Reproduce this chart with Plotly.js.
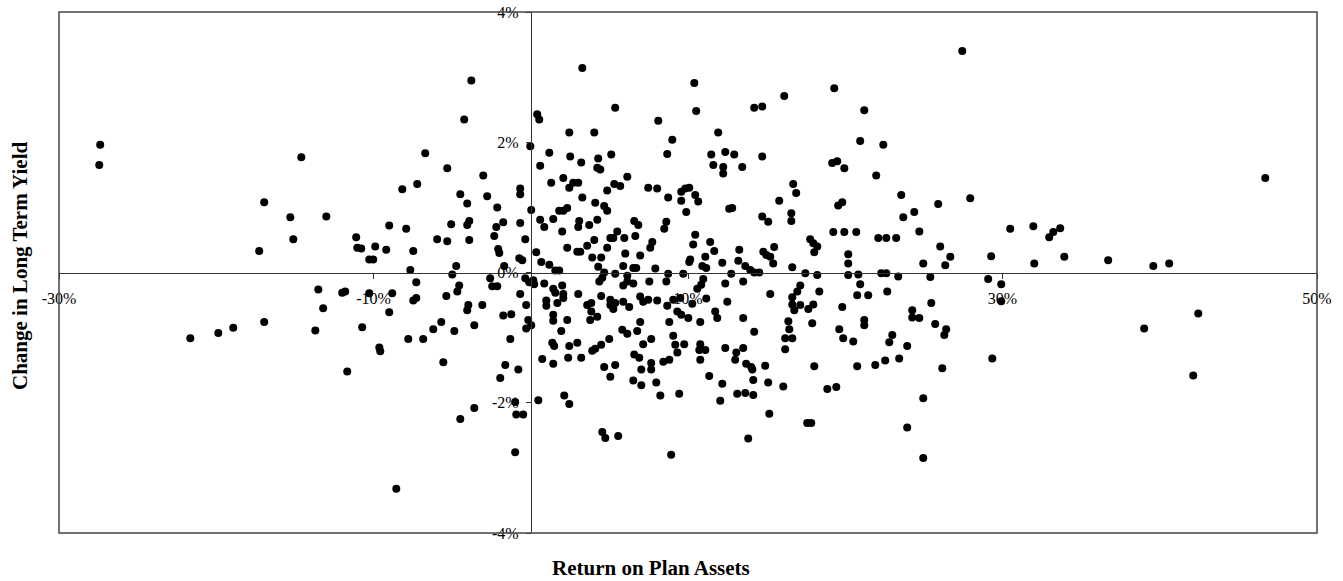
<!DOCTYPE html>
<html>
<head>
<meta charset="utf-8">
<script src="https://cdn.plot.ly/plotly-3.0.1.min.js"></script>
<style>html,body{margin:0;padding:0;background:#fff;}#chart{width:1343px;height:581px;}</style>
</head>
<body>
<div id="chart"></div>
<script>
// Return on plan assets (%) and change in long-term yield (%), grouped by region
const retFarLeftTop = [-27.38,-27.44,-14.59,-16.95,-15.29,-13.00,-15.10,-17.27,-11.10,-11.03,-10.78,-9.89,-9.19,-9.00,-10.27,-10.02,-13.51];
const yldFarLeftTop = [1.96,1.65,1.77,1.08,0.85,0.86,0.51,0.33,0.54,0.38,0.37,0.40,0.35,0.72,0.20,0.20,-0.26];

const retFarLeftBottom = [-11.99,-11.80,-10.27,-8.81,-13.20,-9.00,-16.95,-18.92,-19.87,-21.65,-13.70,-10.72,-9.63,-9.57,-11.67,-8.55];
const yldFarLeftBottom = [-0.31,-0.29,-0.32,-0.32,-0.55,-0.61,-0.76,-0.85,-0.93,-1.01,-0.89,-0.84,-1.15,-1.21,-1.52,-3.32];

const retMidTop = [
 3.28,-3.78,10.40,19.30,16.12,14.21,14.72,5.37,10.52,-4.23,
 0.41,0.54,8.11,2.45,4.04,11.92,9.00,-0.03,-6.71,1.18,
 5.12,8.68,11.48,12.37,12.94,14.72,2.51,4.29,3.21,19.17,
 19.49,19.94,11.61,12.24,12.24,13.45,-5.31,0.60,4.23,4.42,
 -3.02,6.14,2.07,1.30,2.45,2.70,3.02,5.31,5.69,16.69,
 16.88,-7.22,-8.17,-0.67,-0.67,7.47,8.04,9.57,9.83,10.08,
 10.46,10.65,-4.48,-4.04,-2.77,3.28,4.86,8.74,9.57,9.89,
 15.80,16.57,16.57,19.55,19.81,12.62,12.81,4.10,4.67,4.86,
 -2.13,0.03,6.58,6.84,8.62,8.49,14.72,15.10,0.60,0.86,
 1.43,1.81,2.07,2.32,3.08,3.02,3.72,4.23,2.00,-5.06,
 -4.04,-3.91,-1.75,-2.19,-0.67,-7.92,-5.95,-5.31,-3.91,-2.32,
 -0.35,19.24,19.94,5.50,5.25,5.06,5.95,6.65,4.04,3.59,
 4.86,2.32,2.96,3.15,7.73,7.60,6.01,6.96,10.46,10.33,
 11.41,11.67,11.10,10.14,10.08,12.18,13.26,13.20,13.64,15.48,
 14.79,14.98,15.23,15.42,16.63,17.77,17.97,18.22,18.03,20.19,
 20.19,17.46,18.22,20.19,-7.47,-2.07,-2.00,-0.73,-0.54,0.35,
 -4.74,-4.99,-7.66,-1.69,0.67,1.18,1.56,1.81,3.91,4.48,
 4.29,4.67,4.55,4.36,5.37,5.88,6.14,6.52,6.71,7.92,
 8.74,9.70,10.91,11.16,12.75,13.96,14.21,14.53,-7.28,-4.55,
 -2.58,-2.45,-2.13,-0.35,-0.10,0.22,0.16,0.86,2.00,5.88,
 6.14,6.52,7.54,8.62,12.37,13.51,10.97,10.84,17.14
];
const yldMidTop = [
 3.14,2.95,2.91,2.83,2.71,2.53,2.55,2.53,2.48,2.35,
 2.43,2.35,2.33,2.15,2.15,2.15,2.04,1.94,1.83,1.84,
 1.81,1.82,1.81,1.85,1.81,1.78,1.78,1.75,1.69,1.68,
 1.71,1.60,1.65,1.62,1.52,1.62,1.60,1.64,1.61,1.58,
 1.49,1.47,1.45,1.38,1.30,1.38,1.38,1.36,1.33,1.36,
 1.22,1.36,1.28,1.29,1.20,1.30,1.29,1.24,1.29,1.30,
 1.19,1.09,1.20,1.06,1.17,1.15,1.26,1.15,1.10,0.93,
 1.10,0.91,0.79,1.03,1.08,0.98,0.99,1.07,1.02,0.95,
 1.00,0.96,0.79,0.73,0.78,0.67,0.86,0.78,0.81,0.70,
 0.82,0.95,0.95,0.99,0.79,0.70,0.73,0.81,0.63,0.74,
 0.73,0.79,0.77,0.70,0.76,0.67,0.51,0.48,0.50,0.56,
 0.51,0.62,0.62,0.63,0.53,0.53,0.53,0.56,0.50,0.41,
 0.38,0.38,0.32,0.32,0.47,0.38,0.29,0.26,0.58,0.43,
 0.47,0.33,0.24,0.20,0.16,0.15,0.35,0.18,0.10,0.39,
 0.32,0.27,0.24,0.14,0.08,0.51,0.45,0.40,0.31,0.28,
 0.14,-0.01,-0.04,-0.04,0.33,0.36,0.30,0.22,0.19,0.31,
 0.10,-0.03,0.04,0.10,0.16,0.12,0.03,0.03,0.23,0.23,
 0.09,0.00,-0.08,-0.14,-0.02,0.10,-0.05,0.07,0.07,0.06,
 -0.02,-0.02,0.10,0.07,-0.02,0.04,0.00,0.00,-0.15,-0.20,
 -0.09,-0.21,-0.21,-0.09,-0.15,-0.18,-0.12,-0.17,-0.20,-0.20,
 -0.14,-0.17,-0.14,-0.14,-0.17,-0.14,-0.10,-0.19,-0.20
];

const retRightTop = [27.44,21.21,20.95,22.42,21.97,23.56,25.91,27.95,24.39,23.69,46.71,20.70,22.10,22.61,23.24,24.71,26.04,26.68,26.36,24.96,30.49,31.96,32.97,33.23,33.67,29.28,32.02,33.93,36.72,39.59,40.60,20.83,20.95,22.29,22.61,23.37,25.41,29.09,29.92];
const yldRightTop = [3.40,2.49,2.02,1.96,1.49,1.19,1.05,1.14,0.93,0.85,1.45,0.62,0.53,0.53,0.53,0.63,0.40,0.24,0.11,0.14,0.67,0.71,0.54,0.62,0.68,0.25,0.14,0.24,0.19,0.10,0.14,-0.03,-0.18,-0.01,-0.01,-0.06,-0.07,-0.10,-0.18];

const retNearLeftBottom = [-5.37,-4.67,-3.97,-4.04,-3.08,-3.59,-4.86,-5.69,-6.20,-6.84,-7.79,-7.47,-7.28,-5.56,-0.67,-0.29,-1.75,-1.24,-0.16,-0.29,0.03,-1.30,-1.62,-1.94,-0.79,-0.99,-0.92,-0.48,-3.59,-4.48,-0.99];
const yldNearLeftBottom = [-0.36,-0.29,-0.50,-0.58,-0.50,-0.81,-0.90,-0.76,-0.87,-1.02,-1.02,-0.43,-0.39,-1.38,-0.33,-0.50,-0.66,-0.64,-0.73,-0.86,-0.81,-1.02,-1.42,-1.62,-1.49,-1.99,-2.18,-2.18,-2.08,-2.25,-2.76];

const retMidBottom = [
 1.43,1.56,0.99,0.99,2.07,2.07,1.69,3.02,1.43,1.43,
 2.32,1.94,4.48,3.59,3.85,3.85,3.78,4.23,5.06,5.06,
 5.25,5.37,5.88,6.26,6.96,7.15,7.47,8.04,8.68,9.06,
 9.51,10.27,10.59,11.16,12.50,9.32,9.57,10.02,10.78,8.81,
 11.73,11.86,13.51,14.21,6.96,6.77,5.82,6.14,4.99,4.48,
 4.10,3.91,2.96,2.45,1.37,1.49,0.73,1.43,2.38,3.21,
 4.67,5.37,5.06,7.15,7.66,6.58,6.90,7.66,7.66,7.03,
 6.52,7.03,7.98,8.43,8.81,9.06,9.19,9.32,9.76,10.78,
 10.72,11.10,10.78,11.35,12.37,13.07,13.51,13.00,13.70,14.02,
 14.09,14.91,14.15,15.10,12.18,13.13,13.64,14.15,12.05,8.24,
 9.44,2.13,2.45,0.48,4.55,4.74,5.56,13.83,8.93,15.17
];
const yldMidBottom = [
 -0.25,-0.31,-0.43,-0.51,-0.33,-0.39,-0.47,-0.33,-0.65,-0.74,
 -0.73,-0.90,-0.36,-0.50,-0.47,-0.60,-0.73,-0.68,-0.42,-0.50,
 -0.56,-0.47,-0.45,-0.53,-0.37,-0.45,-0.42,-0.43,-0.51,-0.42,
 -0.39,-0.48,-0.25,-0.40,-0.45,-0.60,-0.65,-0.70,-0.76,-0.76,
 -0.60,-0.70,-0.70,-0.91,-0.76,-0.90,-0.88,-0.94,-1.02,-1.11,
 -1.17,-1.20,-1.08,-1.13,-1.08,-1.13,-1.33,-1.40,-1.31,-1.31,
 -1.45,-1.42,-1.60,-1.10,-1.02,-1.26,-1.31,-1.39,-1.49,-1.49,
 -1.66,-1.73,-1.69,-1.37,-1.34,-0.97,-1.11,-1.23,-1.10,-1.10,
 -1.19,-1.19,-1.34,-1.59,-1.16,-1.23,-1.16,-1.34,-1.40,-1.45,
 -1.49,-1.43,-1.65,-1.69,-1.71,-1.86,-1.85,-1.88,-1.97,-1.89,
 -1.86,-1.89,-2.02,-1.96,-2.45,-2.54,-2.51,-2.55,-2.80,-2.17
];

const retMidRightBottom = [15.23,16.63,16.95,18.35,16.63,16.76,17.14,17.65,17.97,19.81,16.38,16.44,17.90,19.62,19.87,16.18,16.63,16.18,18.03,16.06,18.86,19.43,17.58,17.84];
const yldMidRightBottom = [-0.33,-0.38,-0.29,-0.29,-0.49,-0.58,-0.50,-0.56,-0.49,-0.53,-0.75,-0.87,-0.78,-0.87,-1.01,-1.01,-1.01,-1.18,-1.44,-1.75,-1.79,-1.76,-2.31,-2.31];

const retRightBottom = [20.76,21.46,22.67,24.26,24.26,24.71,25.47,25.72,26.42,26.30,21.21,21.21,20.51,22.99,22.80,23.94,22.54,23.43,20.76,21.91,26.17,24.96,23.94,24.96,29.92,29.35,39.01,42.45,42.13];
const yldRightBottom = [-0.35,-0.35,-0.29,-0.58,-0.69,-0.70,-0.47,-0.79,-0.87,-0.96,-0.73,-0.81,-1.06,-0.96,-1.07,-1.13,-1.35,-1.32,-1.44,-1.42,-1.47,-1.93,-2.38,-2.85,-0.44,-1.32,-0.86,-0.63,-1.58];

const xTickVals = [-30, -10, 10, 30, 50];
const xTickLabels = ['-30%', '-10%', '10%', '30%', '50%'];
const yTickVals = [-4, -2, 0, 2, 4];
const yTickLabels = ['-4%', '-2%', '0%', '2%', '4%'];
const xTitle = 'Return on Plan Assets';
const yTitle = 'Change in Long Term Yield';

const groups = [
  [retFarLeftTop, yldFarLeftTop], [retFarLeftBottom, yldFarLeftBottom],
  [retMidTop, yldMidTop], [retRightTop, yldRightTop],
  [retNearLeftBottom, yldNearLeftBottom], [retMidBottom, yldMidBottom],
  [retMidRightBottom, yldMidRightBottom], [retRightBottom, yldRightBottom]
];
let xs = [], ys = [];
groups.forEach(([gx, gy], i) => {
  if (gx.length !== gy.length) console.error('length mismatch in group ' + i + ': ' + gx.length + ' vs ' + gy.length);
  const n = Math.min(gx.length, gy.length);
  xs = xs.concat(gx.slice(0, n)); ys = ys.concat(gy.slice(0, n));
});

const serif = '"Liberation Serif", "Times New Roman", Times, serif';

const trace = {
  type: 'scatter', mode: 'markers', x: xs, y: ys,
  marker: {size: 8, color: '#000'}, hoverinfo: 'skip', cliponaxis: false
};

const layout = {
  width: 1343, height: 581,
  margin: {l: 59, r: 26, t: 12, b: 48, pad: 0},
  paper_bgcolor: '#fff', plot_bgcolor: '#fff',
  showlegend: false,
  font: {family: serif, size: 16, color: '#000'},
  xaxis: {
    range: [-30, 50], anchor: 'free', position: 0.5,
    tickmode: 'array', tickvals: xTickVals, ticktext: xTickLabels,
    ticks: 'outside', ticklen: 5, tickcolor: '#333', tickwidth: 1,
    showline: true, linecolor: '#333', linewidth: 1,
    showgrid: false, zeroline: false, ticklabelstandoff: 6,
    tickfont: {family: serif, size: 16, color: '#000'}
  },
  yaxis: {
    range: [-4, 4], anchor: 'free', position: 0.375,
    tickmode: 'array', tickvals: yTickVals, ticktext: yTickLabels,
    ticks: 'outside', ticklen: 5, tickcolor: '#333', tickwidth: 1,
    showline: true, linecolor: '#333', linewidth: 1,
    showgrid: false, zeroline: false, ticklabelstandoff: 4,
    tickfont: {family: serif, size: 16, color: '#000'}
  },
  shapes: [{
    type: 'rect', xref: 'paper', yref: 'paper', x0: 0, y0: 0, x1: 1, y1: 1,
    line: {color: '#444', width: 1.5}, layer: 'above'
  }],
  annotations: [
    {text: '<b>' + xTitle + '</b>', xref: 'paper', yref: 'paper', x: 0.4706, y: -0.067,
     xanchor: 'center', yanchor: 'middle', showarrow: false,
     font: {family: serif, size: 21, color: '#000'}},
    {text: '<b>' + yTitle + '</b>', xref: 'paper', yref: 'paper', x: -0.031, y: 0.5125,
     xanchor: 'center', yanchor: 'middle', showarrow: false, textangle: -90,
     font: {family: serif, size: 21, color: '#000'}}
  ]
};

Plotly.newPlot('chart', [trace], layout, {staticPlot: true, displayModeBar: false});
</script>
</body>
</html>
